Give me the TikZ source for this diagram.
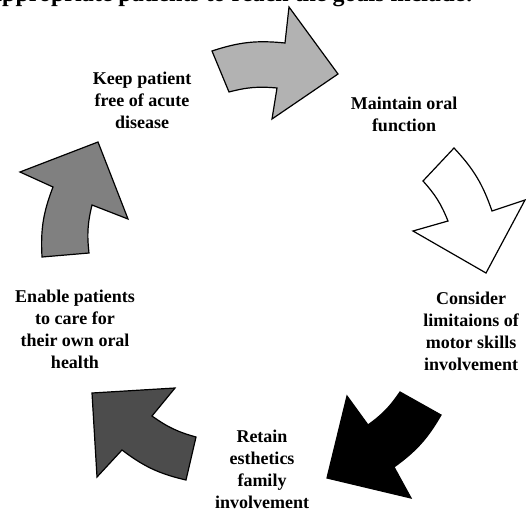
\documentclass[tikz,border=0pt]{standalone}
\usepackage{fontspec}
\setmainfont{Liberation Serif}
\tikzset{
  goalarrow/.style={draw=black, line width=1.2pt, line join=miter},
  goaltext/.style={align=center, inner sep=0pt,
    font=\bfseries\fontsize{18}{22}\selectfont}
}
\begin{document}
\begin{tikzpicture}[x=1pt,y=-1pt]
    \useasboundingbox (0,0) rectangle (526,511);
    % Heading line, cut off by the page edge
    \begin{scope}
        \clip (0,0) rectangle (526,511);
        \node[goaltext, anchor=base west, font=\bfseries\fontsize{24}{28}\selectfont]
            (heading) at (-10,2) {appropriate patients to reach the goals include:};
    \end{scope}
    % Top arrow
    \filldraw[goalarrow, fill=black!30] (212,51) to[bend left=12] (285,43) -- (289,7)
        -- (338,74) -- (272,119) -- (277,88) to[bend right=10] (229,92) -- cycle;
    % Right arrow
    \filldraw[goalarrow, fill=white] (454,148) to[bend left=12] (492,211) -- (525,200)
        -- (486,273) -- (413,231) -- (448,221) to[bend right=10] (423,181) -- cycle;
    % Bottom right arrow
    \filldraw[goalarrow, fill=black] (441,415) to[bend left=12] (394,467) -- (411,498)
        -- (327,478) -- (347,396) -- (368,425) to[bend right=10] (400,392) -- cycle;
    % Bottom left arrow
    \filldraw[goalarrow, fill=black!70] (186,480) to[bend left=12] (122,450) -- (97,477)
        -- (92,393) -- (175,388) -- (152,416) to[bend right=10] (196,437) -- cycle;
    % Left arrow
    \filldraw[goalarrow, fill=black!50] (42,257) to[bend left=12] (53,187) -- (20,172)
        -- (98,142) -- (128,219) -- (92,205) to[bend right=10] (89,253) -- cycle;
    % Goals
    \node[goaltext] (acute) at (142,100) {Keep patient\\free of acute\\disease};
    \node[goaltext] (oral) at (404,114) {Maintain oral\\function};
    \node[goaltext] (motor) at (471,331) {Consider\\limitaions of\\motor skills\\involvement};
    \node[goaltext] (esthetics) at (262,469) {Retain\\esthetics\\family\\involvement};
    \node[goaltext] (selfcare) at (75,329) {Enable patients\\to care for\\their own oral\\health};
\end{tikzpicture}
\end{document}
